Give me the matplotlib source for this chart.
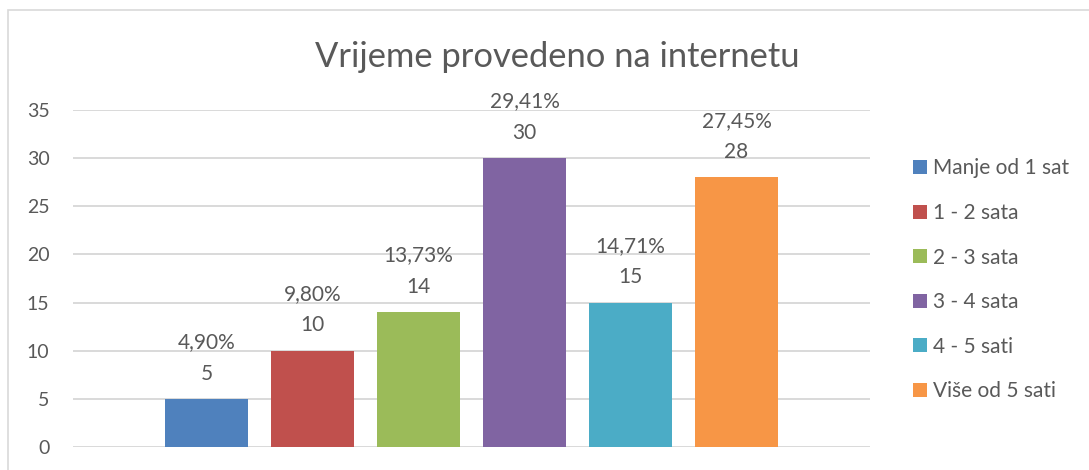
import matplotlib
matplotlib.use("Agg")
import matplotlib.pyplot as plt
from matplotlib.patches import Patch, Rectangle

categories = ["Manje od 1 sat", "1 - 2 sata", "2 - 3 sata", "3 - 4 sata", "4 - 5 sati", "Više od 5 sati"]
counts = [5, 10, 14, 30, 15, 28]
percents = ["4,90%", "9,80%", "13,73%", "29,41%", "14,71%", "27,45%"]
colors = ["#4F81BD", "#C0504D", "#9BBB59", "#8064A2", "#4BACC6", "#F79646"]
yticks = [0, 5, 10, 15, 20, 25, 30, 35]

plt.rcParams['font.family'] = ['Lato', 'DejaVu Sans']
text_color = "#595959"
grid_color = "#D9D9D9"

W, H = 1089, 470
fig = plt.figure(figsize=(W / 100, H / 100), dpi=100)

# outer chart border (Excel style)
fig.patches.append(Rectangle((8 / W, -0.1), 1.2, (H - 10.5) / H + 0.1,
                             transform=fig.transFigure, fill=False,
                             edgecolor=grid_color, linewidth=1.2))

ax = fig.add_axes([73 / W, (H - 447) / H, (870 - 73) / W, (447 - 110) / H])
x = list(range(len(counts)))
ax.bar(x, counts, width=0.79, color=colors, zorder=3)

for xi, c, p in zip(x, counts, percents):
    ax.annotate(f"{p}\n{c}", (xi, c), xytext=(0, 11), textcoords="offset points",
                ha="center", va="bottom", fontsize=15, color=text_color,
                linespacing=1.72)

ax.set_xlim(-1.26, 6.26)
ax.set_ylim(0, 35)
ax.set_yticks(yticks)
ax.set_xticks([])
ax.grid(axis="y", color=grid_color, linewidth=1.4, zorder=0)
for s in ax.spines.values():
    s.set_visible(False)
ax.tick_params(axis="y", length=0, labelsize=14, labelcolor=text_color, pad=17)

fig.text(557 / W, 1 - 57 / H, "Vrijeme provedeno na internetu", ha="center", va="center",
         fontsize=24.8, color=text_color)

handles = [Patch(facecolor=c, edgecolor="none") for c in colors]
leg = fig.legend(handles, categories, loc="upper left", bbox_to_anchor=(905 / W, 1 - 150 / H),
                 frameon=False, fontsize=15, labelcolor=text_color,
                 handlelength=0.65, handleheight=0.65, handletextpad=0.3,
                 labelspacing=1.18, borderaxespad=0)

fig.savefig("out.png", dpi=100)
